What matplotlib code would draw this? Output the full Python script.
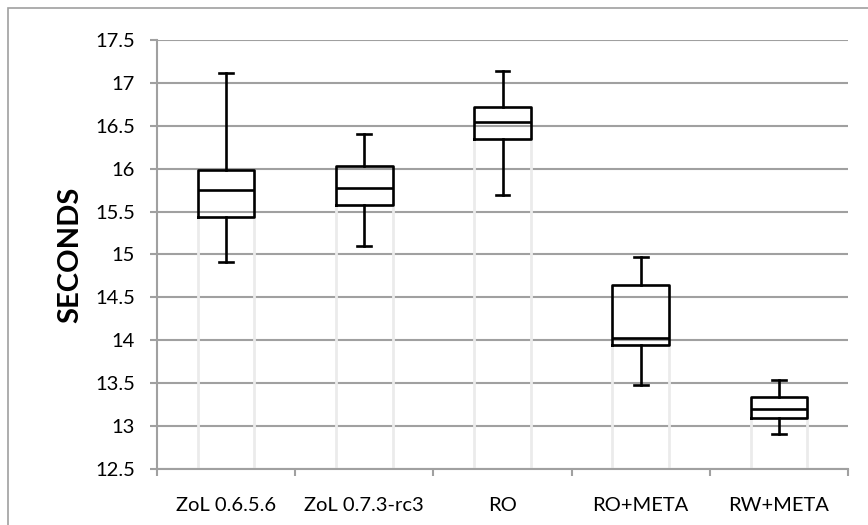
import matplotlib.pyplot as plt
from matplotlib.patches import Rectangle

plt.rcParams['font.family'] = ['Lato', 'DejaVu Sans']

categories = ['ZoL 0.6.5.6', 'ZoL 0.7.3-rc3', 'RO', 'RO+META', 'RW+META']
whis_lo = [14.91, 15.10, 15.69, 13.48, 12.91]
q1 = [15.44, 15.58, 16.35, 13.95, 13.09]
medians = [15.75, 15.78, 16.55, 14.03, 13.20]
q3 = [15.98, 16.03, 16.72, 14.64, 13.34]
whis_hi = [17.11, 16.41, 17.14, 14.97, 13.54]
y_ticks = [12.5, 13, 13.5, 14, 14.5, 15, 15.5, 16, 16.5, 17, 17.5]

grid_col = '#a0a0a0'

fig = plt.figure(figsize=(8.68, 5.25), dpi=100)
ax = fig.add_axes([157 / 868, 56 / 525, 691 / 868, 429 / 525])

# chart border (Excel chart area)
fig.patches.append(Rectangle((8 / 868, -0.2), 1.2, 1.2 - 8 / 525,
                             transform=fig.transFigure, fill=False,
                             edgecolor=grid_col, lw=1.2))

centers = [i + 0.5 for i in range(len(categories))]

# faint stacked base bars under each box
ax.bar(centers, [b - 12.5 for b in q1], bottom=12.5, width=0.41,
       fill=False, edgecolor='#ebebeb', lw=2.0, zorder=1)

stats = []
for i, name in enumerate(categories):
    stats.append({'label': name, 'whislo': whis_lo[i], 'q1': q1[i],
                  'med': medians[i], 'q3': q3[i], 'whishi': whis_hi[i]})

line = dict(color='black', lw=1.9)
ax.bxp(stats, positions=centers, widths=0.41, capwidths=0.1, showfliers=False,
       boxprops=line, medianprops=line, whiskerprops=line, capprops=line,
       manage_ticks=False, zorder=3)

ax.set_xlim(0, 5)
ax.set_ylim(12.5, 17.5)
ax.set_yticks(y_ticks)
ax.set_yticklabels([f'{t:g}' for t in y_ticks])
ax.yaxis.grid(True, color=grid_col, lw=1.5, zorder=0)
ax.set_axisbelow(True)

ax.set_xticks(range(6))
ax.set_xticklabels([])
ax.set_xticks(centers, minor=True)
ax.set_xticklabels(categories, minor=True)
ax.tick_params(axis='x', which='major', length=5, color=grid_col, width=1.5)
ax.tick_params(axis='x', which='minor', length=0, pad=20, labelsize=14.5)
ax.tick_params(axis='y', length=5, color=grid_col, width=1.5, pad=11, labelsize=14.5)

for s in ['top', 'right']:
    ax.spines[s].set_visible(False)
for s in ['left', 'bottom']:
    ax.spines[s].set_color(grid_col)
    ax.spines[s].set_linewidth(1.5)

ax.set_ylabel('SECONDS', fontsize=21, fontweight='bold', labelpad=8)

fig.savefig('out.png', dpi=100)
